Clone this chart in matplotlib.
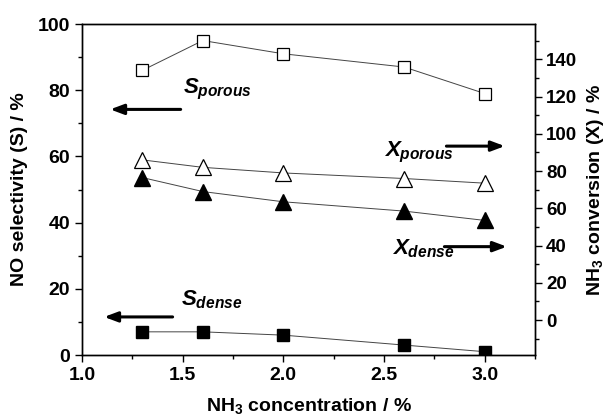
import numpy as np
import matplotlib
matplotlib.use("Agg")
import matplotlib.pyplot as plt
from matplotlib.ticker import MultipleLocator

plt.rcParams["font.family"] = ["Liberation Sans", "DejaVu Sans"]
plt.rcParams["font.weight"] = "bold"
plt.rcParams["axes.labelweight"] = "bold"
plt.rcParams["mathtext.fontset"] = "custom"
plt.rcParams["mathtext.rm"] = "Liberation Sans:bold"
plt.rcParams["mathtext.it"] = "Liberation Sans:italic:bold"
plt.rcParams["mathtext.bf"] = "Liberation Sans:bold"

# NH3 concentration / %
nh3 = [1.3, 1.6, 2.0, 2.6, 3.0]

# NO selectivity (left axis)
s_porous = [86, 95, 91, 87, 79]
s_dense = [7, 7, 6, 3, 1]

# NH3 conversion (right axis)
x_porous = [86, 82, 79, 76, 73.5]
x_dense = [76.5, 69, 63.5, 58.5, 53.5]

fig = plt.figure(figsize=(6.05, 4.17), dpi=100)
ax = fig.add_axes([82 / 605, 1 - 355 / 417, (535 - 82) / 605, (355 - 24) / 417])
ax2 = ax.twinx()

line_kw = dict(color="#444444", lw=0.7)
ax.plot(nh3, s_porous, marker="s", ms=9, mfc="white", mec="black", mew=0.9, **line_kw)
ax.plot(nh3, s_dense, marker="s", ms=9, mfc="black", mec="black", **line_kw)
ax2.plot(nh3, x_porous, marker="^", ms=11, mfc="white", mec="black", mew=0.9, **line_kw)
ax2.plot(nh3, x_dense, marker="^", ms=11, mfc="black", mec="black", **line_kw)

ax.set_xlim(1.0, 3.25)
ax.set_ylim(0, 100)
ax2.set_ylim(-18.8, 159)

ax.xaxis.set_major_locator(MultipleLocator(0.5))
ax.xaxis.set_minor_locator(MultipleLocator(0.25))
ax.yaxis.set_major_locator(MultipleLocator(20))
ax.yaxis.set_minor_locator(MultipleLocator(10))
ax2.yaxis.set_major_locator(MultipleLocator(20))
ax2.yaxis.set_minor_locator(MultipleLocator(10))
ax2.set_yticks(np.arange(0, 141, 20))

for a in (ax, ax2):
    a.tick_params(which="major", direction="out", length=5, width=1, labelsize=14)
    a.tick_params(which="minor", direction="out", length=3, width=1)
    for sp in a.spines.values():
        sp.set_linewidth(1)
ax.tick_params(top=False, right=False)
ax2.tick_params(axis="y", labelsize=13.5, pad=3)
ax.set_xticklabels([f"{v:.1f}" for v in ax.get_xticks()])
for lbl in ax.get_xticklabels() + ax.get_yticklabels() + ax2.get_yticklabels():
    lbl.set_fontweight("bold")

ax.set_xlabel("NH$_3$ concentration / %", fontsize=14, fontweight="bold")
ax.set_ylabel("NO selectivity (S) / %", fontsize=14, fontweight="bold")
ax2.set_ylabel("NH$_3$ conversion (X) / %", fontsize=14, fontweight="bold")
ax.xaxis.set_label_coords(0.5, -0.125)
ax.yaxis.set_label_coords(-0.12, 0.5)
ax2.yaxis.set_label_coords(1.11, 0.5)

arrow = dict(arrowstyle="-|>,head_length=0.8,head_width=0.3", lw=2.2, color="black",
             shrinkA=0, shrinkB=0)
ax.annotate("", xy=(1.14, 74.2), xytext=(1.49, 74.2), arrowprops=arrow)
ax.annotate("", xy=(1.11, 11.5), xytext=(1.45, 11.5), arrowprops=arrow)
ax2.annotate("", xy=(3.10, 93.4), xytext=(2.81, 93.4), arrowprops=arrow)
ax2.annotate("", xy=(3.11, 39.4), xytext=(2.80, 39.4), arrowprops=arrow)

ax.text(1.50, 79, r"$S_{porous}$", fontsize=16, va="baseline")
ax.text(1.49, 15, r"$S_{dense}$", fontsize=16, va="baseline")
ax2.text(2.50, 88, r"$X_{porous}$", fontsize=16, va="baseline")
ax2.text(2.54, 35.5, r"$X_{dense}$", fontsize=16, va="baseline")

fig.savefig("out.png", dpi=100)
